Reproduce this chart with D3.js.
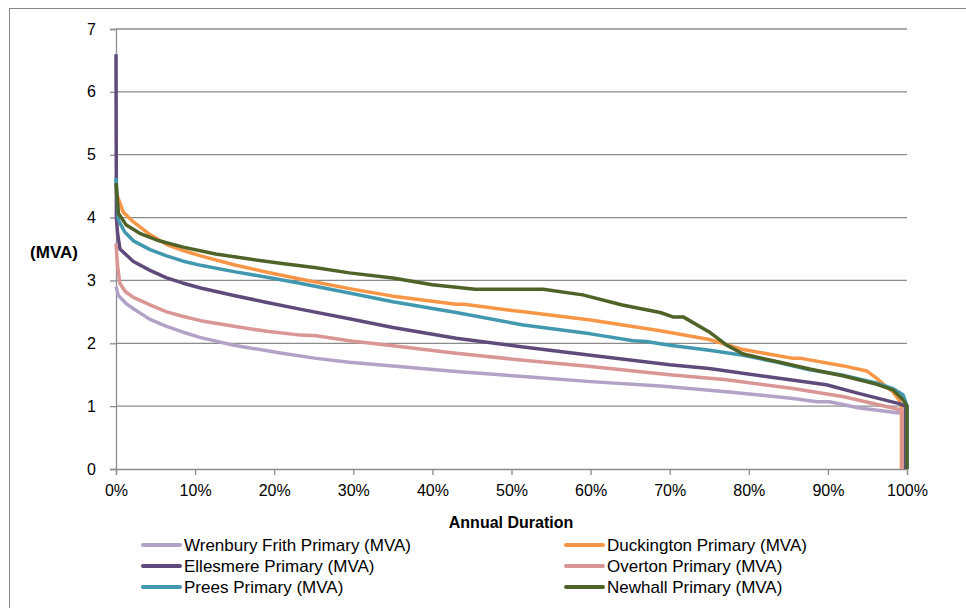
<!DOCTYPE html>
<html lang="en">
<head>
<meta charset="UTF-8" />
<title>Annual load duration</title>
<script src="https://d3js.org/d3.v7.min.js"></script>
<style>
    body { margin: 0; background: #fff; }
    svg { font-family: "Liberation Sans", Arial, sans-serif; }
    .tick text { font-size: 16px; fill: #000; }
    .legend text { font-size: 17px; fill: #000; }
</style>
</head>
<body>
<script>
    // [annual duration %, MVA]
    const wrenbury = [[0,2.9],[0.3,2.76],[1.3,2.63],[2.2,2.55],[4.3,2.38],[6.4,2.27],[8.4,2.18],[10.7,2.09],[14.9,1.97],[21,1.84],[25.3,1.76],[29.5,1.70],[35,1.64],[43,1.55],[51.5,1.47],[60,1.39],[68.8,1.32],[77.2,1.23],[85.6,1.12],[88.6,1.07],[90.2,1.07],[94,0.97],[99,0.89],[99.5,0.88],[99.5,0]];
    const duckington = [[0,4.4],[0.3,4.3],[0.9,4.09],[2.2,3.93],[4.3,3.73],[6.4,3.57],[8.4,3.48],[10.7,3.39],[14.9,3.25],[19.1,3.13],[23.4,3.02],[29.5,2.87],[35,2.75],[43,2.62],[44,2.62],[51.5,2.50],[60,2.37],[68.8,2.20],[75,2.06],[79.3,1.90],[85.6,1.76],[86.6,1.76],[92,1.64],[94.9,1.56],[96.1,1.45],[97.2,1.33],[98.2,1.23],[99,1.1],[99.3,1.0],[99.3,0]];
    const ellesmere = [[0,6.6],[0.05,4.0],[0.2,3.75],[0.5,3.5],[2.2,3.30],[4.3,3.16],[6.4,3.04],[8.4,2.96],[10.7,2.88],[14.9,2.76],[19.1,2.65],[23.4,2.54],[29.5,2.39],[35,2.25],[43,2.08],[51.5,1.94],[60,1.81],[70,1.66],[75,1.60],[82.2,1.47],[89.8,1.34],[94,1.20],[99,1.04],[99.8,1.0],[99.8,0]];
    const overton = [[0,3.59],[0.2,3.22],[0.5,2.95],[1.2,2.82],[2.2,2.73],[4.3,2.61],[6.4,2.50],[8.4,2.43],[10.7,2.36],[14.9,2.27],[19.1,2.19],[23.3,2.13],[25.3,2.12],[29.5,2.04],[35,1.96],[43,1.84],[51.5,1.73],[60,1.63],[70,1.50],[77.2,1.42],[85.6,1.28],[92,1.15],[98.2,0.97],[99.4,0.93],[99.4,0]];
    const prees = [[0,4.63],[0.3,3.96],[1.1,3.77],[2.2,3.63],[4.3,3.49],[6.4,3.39],[8.4,3.31],[10.7,3.24],[14.9,3.14],[19.1,3.05],[23.4,2.95],[29.5,2.80],[35,2.66],[43,2.49],[51.5,2.29],[60,2.15],[65.4,2.04],[67,2.03],[70,1.97],[75,1.89],[79.3,1.81],[83.5,1.70],[87.7,1.58],[92,1.49],[96.1,1.37],[98.2,1.28],[99.5,1.18],[100,1.0],[100,0]];
    const newhall = [[0,4.55],[0.3,4.07],[1.3,3.88],[3,3.75],[5.2,3.64],[8.5,3.53],[12.6,3.42],[16.9,3.34],[21,3.27],[25.3,3.20],[29.5,3.12],[35,3.04],[40,2.93],[45.4,2.86],[54,2.86],[59,2.77],[64,2.61],[68.8,2.49],[70.4,2.42],[71.7,2.42],[75,2.18],[77.2,1.97],[79.3,1.83],[83.5,1.71],[87.7,1.59],[92,1.48],[96.1,1.35],[98.2,1.26],[99.5,1.10],[100,1.0],[100,0]];

    const seriesNames = ["Wrenbury Frith Primary (MVA)", "Duckington Primary (MVA)", "Ellesmere Primary (MVA)",
                         "Overton Primary (MVA)", "Prees Primary (MVA)", "Newhall Primary (MVA)"];
    const seriesData = [wrenbury, duckington, ellesmere, overton, prees, newhall];
    const seriesColors = ["#B3A2C7", "#F79646", "#604A7B", "#D99694", "#4198AF", "#4F6228"];
    const xTicks = [0, 10, 20, 30, 40, 50, 60, 70, 80, 90, 100];
    const yTicks = [0, 1, 2, 3, 4, 5, 6, 7];

    const w = 966, h = 608;
    const plot = { left: 116, right: 907, top: 29, bottom: 469 };

    const svg = d3.select("body").append("svg")
        .attr("width", w)
        .attr("height", h);

    // chart frame
    svg.append("rect")
        .attr("x", 9.5).attr("y", 8.5)
        .attr("width", 1000).attr("height", 700)
        .attr("fill", "none")
        .attr("stroke", "#868686")
        .attr("stroke-width", 1);

    const x = d3.scaleLinear().domain([0, 100]).range([plot.left, plot.right]);
    const y = d3.scaleLinear().domain([0, 7]).range([plot.bottom, plot.top]);

    // gridlines
    svg.append("g")
        .selectAll("line")
        .data(yTicks.filter(d => d > 0))
        .join("line")
        .attr("x1", plot.left).attr("x2", plot.right)
        .attr("y1", d => y(d)).attr("y2", d => y(d))
        .attr("stroke", "#8c8c8c")
        .attr("stroke-width", 1.3);

    const yAxis = svg.append("g")
        .attr("transform", `translate(${plot.left},0)`)
        .call(d3.axisLeft(y).tickValues(yTicks).tickSize(6).tickPadding(14).tickFormat(d3.format("d")));

    const xAxis = svg.append("g")
        .attr("transform", `translate(0,${plot.bottom})`)
        .call(d3.axisBottom(x).tickValues(xTicks).tickSize(6).tickPadding(10).tickFormat(d => d + "%"));

    [xAxis, yAxis].forEach(a => {
        a.select(".domain").attr("stroke", "#8c8c8c").attr("stroke-width", 1.3);
        a.selectAll(".tick line").attr("stroke", "#8c8c8c").attr("stroke-width", 1.3);
        a.selectAll(".tick text").style("font-family", "inherit");
    });

    // lines
    const line = d3.line()
        .x(d => x(d[0]))
        .y(d => y(d[1]));

    svg.append("g")
        .selectAll("path")
        .data(seriesData)
        .join("path")
        .attr("d", line)
        .attr("fill", "none")
        .attr("stroke", (d, i) => seriesColors[i])
        .attr("stroke-width", 3.5)
        .attr("stroke-linejoin", "round");

    // axis titles
    svg.append("text")
        .attr("x", 54).attr("y", 258)
        .attr("text-anchor", "middle")
        .style("font-size", "17px")
        .style("font-weight", "bold")
        .text("(MVA)");

    svg.append("text")
        .attr("x", 511).attr("y", 528)
        .attr("text-anchor", "middle")
        .style("font-size", "16px")
        .style("font-weight", "bold")
        .text("Annual Duration");

    // legend, two columns filled row by row
    const legend = svg.selectAll(".legend")
        .data(seriesNames)
        .join("g")
        .attr("class", "legend")
        .attr("transform", (d, i) => `translate(${i % 2 === 0 ? 143 : 566},${545 + Math.floor(i / 2) * 21})`);

    legend.append("line")
        .attr("x1", 0).attr("x2", 37)
        .attr("stroke", (d, i) => seriesColors[i])
        .attr("stroke-width", 4)
        .attr("stroke-linecap", "round");

    legend.append("text")
        .attr("x", 41)
        .attr("y", 6)
        .text(d => d);
</script>
</body>
</html>
